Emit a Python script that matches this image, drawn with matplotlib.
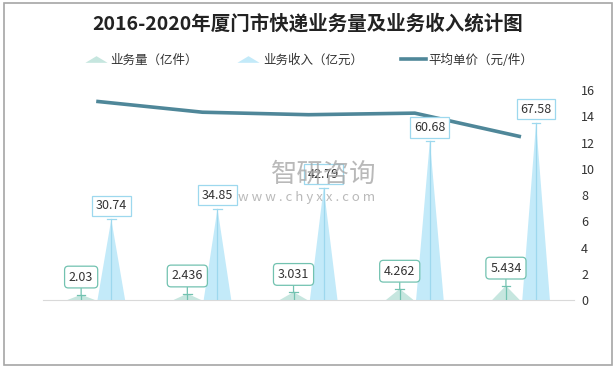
import matplotlib
matplotlib.use('Agg')
import matplotlib.pyplot as plt
from matplotlib.lines import Line2D
from matplotlib.patches import Rectangle
from matplotlib.path import Path

plt.rcParams['font.family'] = ['Noto Sans CJK SC', 'DejaVu Sans']

# 数据
years = ['2016年', '2017年', '2018年', '2019年', '2020年']
volume = [2.03, 2.436, 3.031, 4.262, 5.434]          # 业务量（亿件）
revenue = [30.74, 34.85, 42.79, 60.68, 67.58]       # 业务收入（亿元）
price = [15.14, 14.31, 14.12, 14.24, 12.44]         # 平均单价（元/件）
volume_labels = ['2.03', '2.436', '3.031', '4.262', '5.434']
revenue_labels = ['30.74', '34.85', '42.79', '60.68', '67.58']

C_VOL = '#c6e6df'
C_VOL_EDGE = '#72c2b0'
C_REV = '#c3eaf9'
C_REV_EDGE = '#9dd8ee'
C_LINE = '#4f8799'
C_TXT = '#333333'

fig = plt.figure(figsize=(6.16, 3.69), dpi=100)
fig.patch.set_facecolor('white')
fig.add_artist(Rectangle((4 / 616, 1 - 365 / 369), 608 / 616, 362 / 369,
                         transform=fig.transFigure, fill=False,
                         edgecolor='#a6a6a6', linewidth=1.2))

ax = fig.add_axes([0.07, 0.187, 0.862, 0.569])
ax2 = ax.twinx()
ax.set_zorder(2)
ax2.set_zorder(1)
ax.patch.set_visible(False)

ax.set_xlim(-0.5, 4.5)
ax.set_ylim(0, 80)
ax2.set_ylim(0, 16)

half = 0.13
off = 0.142


def spike(axis, xc, h, face, edge):
    axis.fill([xc - half, xc, xc + half], [0, h, 0], color=face, lw=0, zorder=2)
    axis.plot([xc, xc], [0, h], color=edge, lw=0.9, zorder=3)
    axis.plot([xc - 0.04, xc + 0.04], [h, h], color=edge, lw=0.9, zorder=3)


for i in range(len(years)):
    spike(ax, i - off, volume[i], C_VOL, C_VOL_EDGE)
    spike(ax, i + off, revenue[i], C_REV, C_REV_EDGE)
    ax.annotate(volume_labels[i], xy=(i - off, volume[i]), xytext=(0, 8),
                textcoords='offset points', ha='center', va='bottom',
                fontsize=9, color=C_TXT, zorder=6,
                bbox=dict(boxstyle='round,pad=0.35,rounding_size=0.3',
                          fc='white', ec=C_VOL_EDGE, lw=0.9),
                arrowprops=dict(arrowstyle='-', color=C_VOL_EDGE, lw=0.9,
                                shrinkA=0, shrinkB=0))
    ax.annotate(revenue_labels[i], xy=(i + off, revenue[i]), xytext=(0, 5),
                textcoords='offset points', ha='center', va='bottom',
                fontsize=9, color=C_TXT, zorder=6,
                bbox=dict(boxstyle='square,pad=0.3', fc='white',
                          ec=C_REV_EDGE, lw=0.9))

ax2.plot(range(len(years)), price, color=C_LINE, lw=2.6, solid_capstyle='butt', zorder=4)

ax.set_xticks(range(len(years)))
ax.set_xticklabels(years, fontsize=9, fontweight='bold', color=C_TXT)
ax.tick_params(axis='x', length=0, pad=11)
ax.set_yticks([])
for s in ['top', 'left', 'right']:
    ax.spines[s].set_visible(False)
    ax2.spines[s].set_visible(False)
ax.spines['bottom'].set_color('#d9d9d9')
ax2.spines['bottom'].set_visible(False)
ax2.set_yticks(range(0, 17, 2))
ax2.tick_params(axis='y', length=0, pad=5, labelsize=9, labelcolor=C_TXT)
ax2.set_xticks([])

# 水印
fig.text(324 / 616, 1 - 174 / 369, '智研咨询', fontsize=19, color='#a8a8a8', alpha=0.8,
         ha='center', va='center', zorder=10)
fig.text(307 / 616, 1 - 197 / 369, 'w w w . c h y x x . c o m', fontsize=9.5,
         color='#a8a8a8', alpha=0.8, ha='center', va='center', zorder=10)

fig.text(0.5, 1 - 24 / 369, '2016-2020年厦门市快递业务量及业务收入统计图',
         fontsize=14, fontweight='bold', color='#222222', ha='center', va='center')

tri = Path([(-1, -0.3), (1, -0.3), (0, 0.3), (-1, -0.3)],
           [Path.MOVETO, Path.LINETO, Path.LINETO, Path.CLOSEPOLY])
handles = [Line2D([], [], ls='none', marker=tri, markersize=16, color=C_VOL, mew=0),
           Line2D([], [], ls='none', marker=tri, markersize=16, color=C_REV, mew=0),
           Line2D([], [], color=C_LINE, lw=2.6)]
fig.legend(handles, ['业务量（亿件）', '业务收入（亿元）', '平均单价（元/件）'],
           loc='center', bbox_to_anchor=(0.5, 1 - 60 / 369), ncol=3, frameon=False,
           fontsize=9, handlelength=2.0, handletextpad=0.2, columnspacing=3.0,
           labelcolor=C_TXT)

fig.savefig('out.png', dpi=100, facecolor='white')
